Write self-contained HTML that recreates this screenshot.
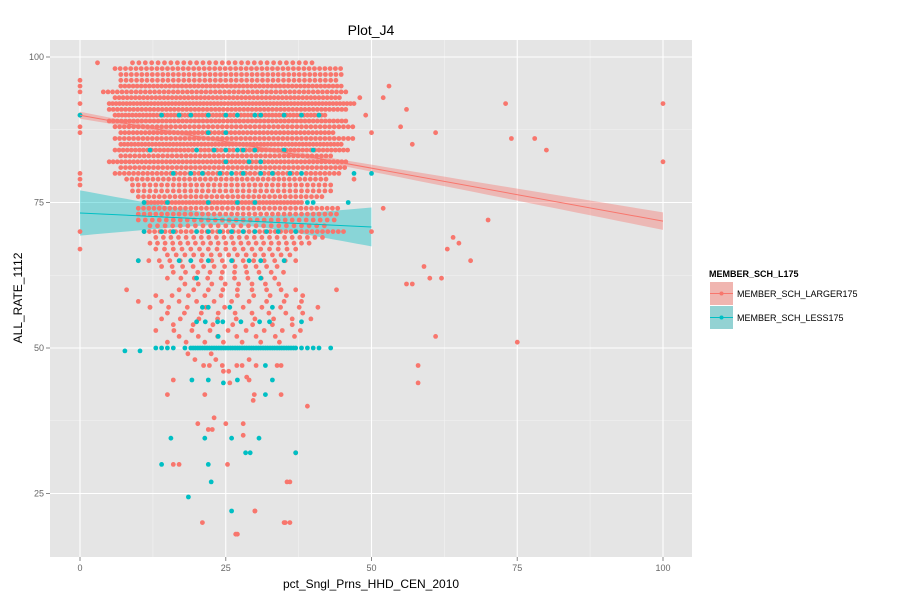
<!DOCTYPE html>
<html><head><meta charset="utf-8"><style>
body{margin:0;background:#fff;font-family:"Liberation Sans",sans-serif}
svg text{font-family:"Liberation Sans",sans-serif}
</style></head><body>
<svg id="chart" width="900" height="600" xmlns="http://www.w3.org/2000/svg">
<rect x="50" y="40" width="642" height="517" fill="#E5E5E5"/>
<g id="grid"></g>
<g id="ribbons"></g>
<g id="pts"></g>
<g id="lines"></g>
<g id="axes"></g>
<text x="371" y="35" font-size="14" text-anchor="middle">Plot_J4</text>
<text x="371" y="588" font-size="12" text-anchor="middle">pct_Sngl_Prns_HHD_CEN_2010</text>
<text transform="translate(22,298) rotate(-90)" font-size="12" text-anchor="middle">ALL_RATE_1112</text>
<g>
<text x="709" y="277" font-size="9" font-weight="bold">MEMBER_SCH_L175</text>
<g>
<rect x="710" y="282" width="23" height="23" fill="#F0B5B0"/>
<line x1="710" y1="293.5" x2="733" y2="293.5" stroke="#F8766D"/>
<circle cx="721.5" cy="293.5" r="2" fill="#F8766D"/>
<text x="737" y="297" font-size="9">MEMBER_SCH_LARGER175</text></g>
<g>
<rect x="710" y="306" width="23" height="23" fill="#93D2D3"/>
<line x1="710" y1="317.5" x2="733" y2="317.5" stroke="#00BFC4"/>
<circle cx="721.5" cy="317.5" r="2" fill="#00BFC4"/>
<text x="737" y="321" font-size="9">MEMBER_SCH_LESS175</text></g>
</g>
</svg>
<script>
// ---- data ----
const xTicks=[0,25,50,75,100];
const yTicks=[25,50,75,100];
// red dense rows: y value, x min, x max, spacing
const redRowY=[99,98,97,96,95,94,93,92,91,90,89,88,87,86,85,84,83,82,81,80,79,78,77,76,75,74,73,72,71,70,69,68,67,66,65,64,63,62,61,60,59,58,57,56,55,54,53,52,51];
const redRowMin=[9,6,7,7,7,4,6,5,5,6,5,6,7,6,7,6,7,5,7,6,8,9,9,10,11,10,10,10,12,11,13,12,13,15,10,14,16,15,18,17,13,14,12,15,14,16,13,17,15];
const redRowMax=[40,45,45,44,45,46,45,47,46,42,46,47,44,47,45,46,43,46,46,45,43,43,43,42,38,45,44,44,42,46,42,40,38,37,38,35,36,35,36,38,40,38,41,39,42,37,40,38,36];
const redRowStep=[1.1,0.9,0.9,0.9,0.7,0.8,0.7,0.6,0.7,0.6,0.7,0.8,0.7,0.8,0.6,0.7,0.8,0.7,0.8,0.8,0.9,1,1,0.9,0.6,0.9,1,1.2,1.3,0.9,1.3,1.3,1.5,1.5,1.8,1.8,2.1,2.3,2.3,2.5,2.8,3,3.2,2.9,3.2,3.4,3.1,3.3,3.2];
const redX=[0,0,0,0,0,0,0,0,0,0,0,0,100,100,73,74,78,80,75,61,58,58,62,57,63,64,65,67,70,60,59,56,52,50,53,52,56,55,61,57,21,36,35,27,30,36,39,17,12,8,25,22,28,23,10,44,16,15,21.4,29.9,29.7,34.5,20.2,22.7,28,16,25.3,35.5,30,35.2,26.7,37,19.7,23.3,21.2,22.2,24.4,26.9,27.8,30.2,33.8,34.5,24.6,25.5,28.6,29,25.7,29,18.5,22.5,3,48,49,50,47];
const redY=[96,95,94,92,90,88,87,80,79,78,70,67,92,82,92,86,86,84,51,52,47,44,62,61,67,69,68,65,72,62,64,61,74,70,95,93,91,88,87,85,20,20,20,18,22,27,40,30,57,60,37,36,35,38,58,60,44.5,42,42,42,41,42,37,36,37,30,30,27,22,20,18,32,48,48,47,47,47,47,47,47,47,47,46,46,45,44.5,44,48,49,49,99,93,90,87,79];
const tealX=[0,14,17,19,22,25,27,30,31,35,38,41,12,20,23,25,27,28,30,35,40,16,19,21,24,26,28,31,33,36,38,47,50,11,15,22,27,30,39,40,46,11,14,16,20,22,24,26,28,30,32,34,37,10,17,19,22,26,29,31,35,20,31,25,29,31,22,25,15.6,21.4,26,30.7,28.4,29.2,37,14,22,22.5,18.6,26,7.7,10.3,19.2,22,27,33,24.6,31.8,31.8,21,22,25.7,33,20,21.5,23.6,24.5,27.6,30.8,32.5,38,23.7,13,14,15,16,18,38,39,40,41,43];
const tealY=[90,90,90,90,90,90,90,90,90,90,90,90,84,84,84,84,84,84,84,84,84,80,80,80,80,80,80,80,80,80,80,80,80,75,75,75,75,75,75,75,75,70,70,70,70,70,70,70,70,70,70,70,70,65,65,65,65,65,65,65,65,62,62,82,82,82,87,87,34.5,34.5,34.5,34.5,32,32,32,30,30,27,24.4,22,49.5,49.5,44.5,44.5,44.5,44.5,44,42,47,57,57,57,57,54.5,54.5,54.5,54.5,54.5,54.5,54.5,54.5,52,50,50,50,50,50,50,50,50,50,50];
const tealRowY=[50];
const tealRowMin=[19];
const tealRowMax=[37];
const tealRowStep=[0.4];
const redFit=[90,-0.182,0,100,0.35,0.0195,25];
const tealFit=[73.2,-0.048,0,50,0.8,0.141,27];

// ---- scales ----
const X=v=>80+v*5.83;
const Y=v=>57+(100-v)*5.82;
const NS="http://www.w3.org/2000/svg";
function mk(tag,attrs,parent){const e=document.createElementNS(NS,tag);for(const k in attrs)e.setAttribute(k,attrs[k]);parent.appendChild(e);return e;}
const grid=document.getElementById('grid'),axes=document.getElementById('axes');
for(let i=0;i<xTicks.length-1;i++){const v=(xTicks[i]+xTicks[i+1])/2;const l=mk('line',{x1:X(v),x2:X(v),y1:40,y2:557,stroke:'#F2F2F2','stroke-width':0.6},grid);

}
for(let v=12.5;v<=112.5;v+=25){const yy=Y(v);if(yy<40||yy>557)continue;const l=mk('line',{x1:50,x2:692,y1:yy,y2:yy,stroke:'#F2F2F2','stroke-width':0.6},grid);

}
xTicks.forEach(v=>{const l=mk('line',{x1:X(v),x2:X(v),y1:40,y2:557,stroke:'#fff','stroke-width':1.1},grid);


const t=mk('text',{x:X(v),y:571,'font-size':9,fill:'#666','text-anchor':'middle'},axes);t.textContent=v;


const k=mk('line',{x1:X(v),x2:X(v),y1:557,y2:561,stroke:'#888'},axes);

});
yTicks.forEach(v=>{const l=mk('line',{x1:50,x2:692,y1:Y(v),y2:Y(v),stroke:'#fff','stroke-width':1.1},grid);


const t=mk('text',{x:44,y:Y(v)+3,'font-size':9,fill:'#666','text-anchor':'end'},axes);t.textContent=v;


const k=mk('line',{x1:46,x2:50,y1:Y(v),y2:Y(v),stroke:'#888'},axes);

});

const rib=document.getElementById('ribbons'),lines=document.getElementById('lines');
function fit(f,col,fill,name){const [b0,b1,x0,x1,a,b,c]=f;const up=[],lo=[];
for(let i=0;i<=40;i++){const x=x0+(x1-x0)*i/40;const y=b0+b1*x;const se=Math.sqrt(a*a+b*b*(x-c)*(x-c));up.push(X(x)+','+Y(y+se));lo.unshift(X(x)+','+Y(y-se));}
const p=mk('polygon',{points:up.concat(lo).join(' '),fill:fill,'fill-opacity':0.4},rib);


const l=mk('line',{x1:X(x0),y1:Y(b0+b1*x0),x2:X(x1),y2:Y(b0+b1*x1),stroke:col,'stroke-width':1},lines);

}
fit(redFit,'#F8766D','#F8766D','larger175-smooth');
fit(tealFit,'#00BFC4','#00BFC4','less175-smooth');

const pts=document.getElementById('pts');
function dot(x,y,col,name){const c=mk('circle',{cx:X(x).toFixed(1),cy:Y(y).toFixed(1),r:2.4,fill:col},pts);

}
function rows(ry,rmin,rmax,rstep,col,name){for(let i=0;i<ry.length;i++){for(let x=rmin[i];x<=rmax[i]+1e-6;x+=rstep[i])dot(x,ry[i],col,name);}}
rows(redRowY,redRowMin,redRowMax,redRowStep,'#F8766D','point-larger175');
redX.forEach((x,i)=>dot(x,redY[i],'#F8766D','point-larger175'));
rows(tealRowY,tealRowMin,tealRowMax,tealRowStep,'#00BFC4','point-less175');
tealX.forEach((x,i)=>dot(x,tealY[i],'#00BFC4','point-less175'));
</script>
</body></html>
